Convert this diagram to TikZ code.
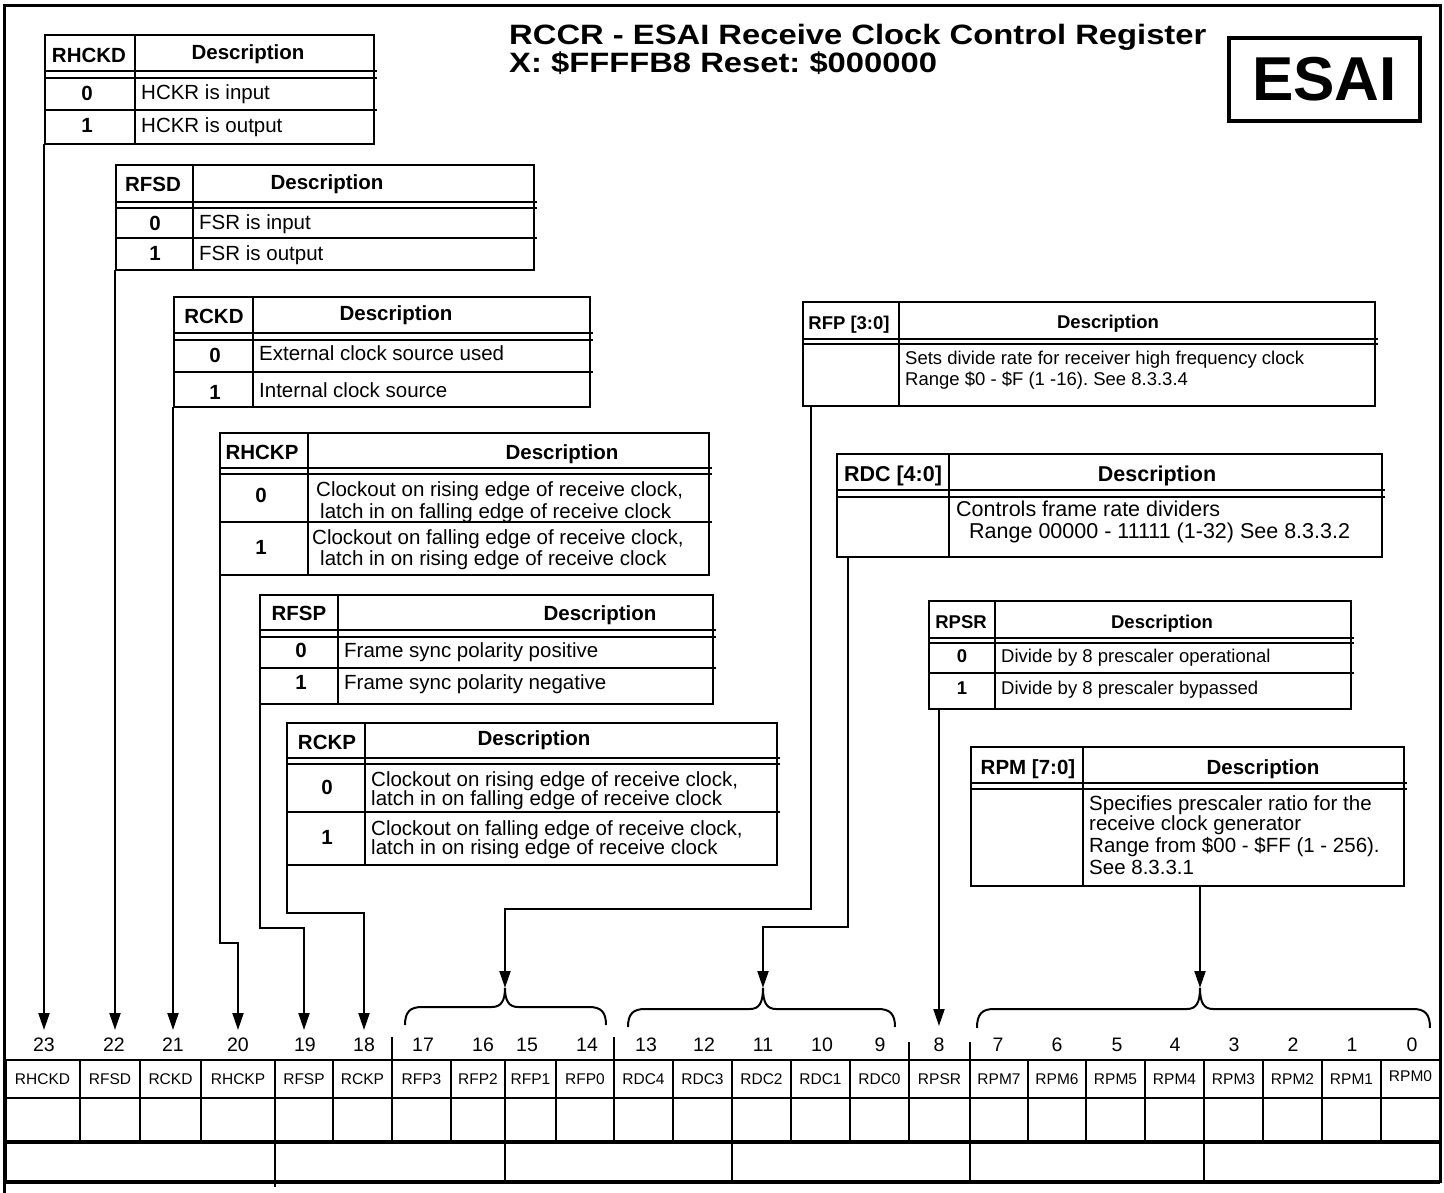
\documentclass[tikz,border=0pt]{standalone}
\usepackage{fontspec}
\usepackage{graphicx}
\setmainfont{Liberation Sans}
\usetikzlibrary{arrows.meta}
\newcommand{\fsz}[1]{\fontsize{#1}{#1}\selectfont}
\newcommand{\tbl}[7]{%
  \draw[tblline] (#1,#2) rectangle (#4,#7);
  \draw[tblline] (#3,#2) -- (#3,#7);
  \draw[tblline] (#1,#5) -- (#4+3,#5);
  \draw[tblline] (#1,#6) -- (#4+3,#6);
}
\newcommand{\rowline}[3]{\draw[tblline] (#1,#3) -- (#2+3,#3);}
\newcommand{\regbrace}[6]{%
  \draw[conn] (#1,#4) .. controls (#1,#5+5) and (#1+5,#5) .. (#1+17,#5)
    -- (#2-13,#5) .. controls (#2-4,#5) and (#2,#5-6) .. (#2,#6)
    .. controls (#2,#5-6) and (#2+4,#5) .. (#2+13,#5)
    -- (#3-17,#5) .. controls (#3-5,#5) and (#3,#5+5) .. (#3,#4);
}
\newcommand{\wide}[1]{\scalebox{1.17}[1]{#1}}
\begin{document}
\frenchspacing
\begin{tikzpicture}[x=1pt,y=-1pt,
  tblline/.style={line width=2.4pt},
  conn/.style={line width=2pt},
  arr/.style={conn,-{Triangle[length=17pt,width=11pt]}},
  regline/.style={line width=2.2pt},
  hdtxt/.style={inner sep=0pt,anchor=base,font=\fsz{20.5}\bfseries},
  bodytxt/.style={inner sep=0pt,anchor=base west,font=\fsz{20.5}},
  hdsm/.style={inner sep=0pt,anchor=base,font=\fsz{18.5}\bfseries},
  bodysm/.style={inner sep=0pt,anchor=base west,font=\fsz{18.5}},
  hdlg/.style={inner sep=0pt,anchor=base,font=\fsz{21.5}\bfseries},
  bodylg/.style={inner sep=0pt,anchor=base west,font=\fsz{21.5}},
  bitnum/.style={inner sep=0pt,anchor=base,font=\fsz{19.5}},
  fldname/.style={inner sep=0pt,anchor=base,font=\fsz{15.5}},
  ttl/.style={inner sep=0pt,anchor=base west,font=\fsz{28}\bfseries}]
\useasboundingbox (0,0) rectangle (1444,1193);
\fill[white] (0,0) rectangle (1444,1193);

% outer frame
\draw[line width=3pt] (4,1193) -- (4,6) -- (1440,6) -- (1440,1183);

% title and ESAI box
\node[ttl] (title1) at (509,45) {\wide{RCCR - ESAI Receive Clock Control Register}};
\node[ttl] (title2) at (509,73) {\wide{X: \$FFFFB8 Reset: \$000000}};
\node[draw,line width=4.5pt,minimum width=191pt,minimum height=83pt,inner sep=0pt,
      font=\fsz{62}\bfseries] (esai) at (1324.5,79.5) {ESAI};

% ---------- RHCKD
\tbl{45}{35}{135}{374}{71}{78}{144}
\rowline{45}{374}{110}
\node[hdtxt] (rhckdH) at (89,62.4) {RHCKD};
\node[hdtxt] (rhckdD) at (248,59.4) {Description};
\node[hdtxt] (rhckd0) at (87,100.4) {0};
\node[hdtxt] (rhckd1) at (87,132.4) {1};
\node[bodytxt] (rhckdT0) at (141,99.4) {HCKR is input};
\node[bodytxt] (rhckdT1) at (141,132.4) {HCKR is output};
\coordinate (cRHCKD) at (44,144);

% ---------- RFSD
\tbl{116}{165}{193}{534}{202}{208}{270}
\rowline{116}{534}{238}
\node[hdtxt] (rfsdH) at (153,191.4) {RFSD};
\node[hdtxt] (rfsdD) at (327,189.4) {Description};
\node[hdtxt] (rfsd0) at (155,230.4) {0};
\node[hdtxt] (rfsd1) at (155,260.4) {1};
\node[bodytxt] (rfsdT0) at (199,229.4) {FSR is input};
\node[bodytxt] (rfsdT1) at (199,260.4) {FSR is output};
\coordinate (cRFSD) at (115,270);

% ---------- RCKD
\tbl{174}{297}{253}{590}{333}{340}{407}
\rowline{174}{590}{372}
\node[hdtxt] (rckdH) at (214,323.4) {RCKD};
\node[hdtxt] (rckdD) at (396,320.4) {Description};
\node[hdtxt] (rckd0) at (215,362.4) {0};
\node[hdtxt] (rckd1) at (215,399.4) {1};
\node[bodytxt] (rckdT0) at (259,360.4) {External clock source used};
\node[bodytxt] (rckdT1) at (259,397.4) {Internal clock source};
\coordinate (cRCKD) at (173,407);

% ---------- RHCKP
\tbl{220}{433}{308}{709}{468}{474}{575}
\rowline{220}{709}{522}
\node[hdtxt] (rhckpH) at (262,459.4) {RHCKP};
\node[hdtxt] (rhckpD) at (562,459.4) {Description};
\node[hdtxt] (rhckp0) at (261,502.4) {0};
\node[hdtxt] (rhckp1) at (261,554.4) {1};
\node[bodytxt] (rhckpA) at (316,496.4) {Clockout on rising edge of receive clock,};
\node[bodytxt] (rhckpB) at (320,518.4) {latch in on falling edge of receive clock};
\node[bodytxt] (rhckpC) at (312,544.4) {Clockout on falling edge of receive clock,};
\node[bodytxt] (rhckpE) at (320,565.4) {latch in on rising edge of receive clock};
\coordinate (cRHCKP) at (220,575);

% ---------- RFSP
\tbl{260}{595}{338}{713}{630}{637}{704}
\rowline{260}{713}{668}
\node[hdtxt] (rfspH) at (299,620.4) {RFSP};
\node[hdtxt] (rfspD) at (600,620.4) {Description};
\node[hdtxt] (rfsp0) at (301,657.4) {0};
\node[hdtxt] (rfsp1) at (301,689.4) {1};
\node[bodytxt] (rfspT0) at (344,657.4) {Frame sync polarity positive};
\node[bodytxt] (rfspT1) at (344,689.4) {Frame sync polarity negative};
\coordinate (cRFSP) at (260,704);

% ---------- RCKP
\tbl{287}{723}{365}{777}{758}{764}{865}
\rowline{287}{777}{812}
\node[hdtxt] (rckpH) at (327,749.4) {RCKP};
\node[hdtxt] (rckpD) at (534,745.4) {Description};
\node[hdtxt] (rckp0) at (327,794.4) {0};
\node[hdtxt] (rckp1) at (327,844.4) {1};
\node[bodytxt] (rckpA) at (371,786.4) {Clockout on rising edge of receive clock,};
\node[bodytxt] (rckpB) at (371,805.4) {latch in on falling edge of receive clock};
\node[bodytxt] (rckpC) at (371,835.4) {Clockout on falling edge of receive clock,};
\node[bodytxt] (rckpE) at (371,854.4) {latch in on rising edge of receive clock};
\coordinate (cRCKP) at (287,865);

% ---------- RFP
\tbl{803}{302}{899}{1375}{339}{344}{406}
\node[hdsm] (rfpH) at (849,329.7) {RFP [3:0]};
\node[hdsm] (rfpD) at (1108,328.7) {Description};
\node[bodysm] (rfpA) at (905,364.7) {Sets divide rate for receiver high frequency clock};
\node[bodysm] (rfpB) at (905,385.7) {Range \$0 - \$F (1 -16). See 8.3.3.4};
\coordinate (cRFP) at (811,406);

% ---------- RDC
\tbl{837}{454}{949}{1382}{490}{497}{557}
\node[hdlg] (rdcH) at (893,481.7) {RDC [4:0]};
\node[hdlg] (rdcD) at (1157,481.7) {Description};
\node[bodylg] (rdcA) at (956,516.7) {Controls frame rate dividers};
\node[bodylg] (rdcB) at (969,538.7) {Range 00000 - 11111 (1-32) See 8.3.3.2};
\coordinate (cRDC) at (848,557);

% ---------- RPSR
\tbl{929}{601}{995}{1351}{638}{643}{709}
\rowline{929}{1351}{673}
\node[hdsm] (rpsrH) at (961,628.7) {RPSR};
\node[hdsm] (rpsrD) at (1162,628.7) {Description};
\node[hdsm] (rpsr0) at (962,662.7) {0};
\node[hdsm] (rpsr1) at (962,694.7) {1};
\node[bodysm] (rpsrT0) at (1001,662.7) {Divide by 8 prescaler operational};
\node[bodysm] (rpsrT1) at (1001,694.7) {Divide by 8 prescaler bypassed};
\coordinate (cRPSR) at (939,709);

% ---------- RPM
\tbl{971}{747}{1083}{1404}{783}{789}{886}
\node[hdtxt] (rpmH) at (1028,774.4) {RPM [7:0]};
\node[hdtxt] (rpmD) at (1263,774.4) {Description};
\node[bodytxt] (rpmA) at (1089,810.4) {Specifies prescaler ratio for the};
\node[bodytxt] (rpmB) at (1089,830.4) {receive clock generator};
\node[bodytxt] (rpmC) at (1089,852.4) {Range from \$00 - \$FF (1 - 256).};
\node[bodytxt] (rpmE) at (1089,874.4) {See 8.3.3.1};
\coordinate (cRPM) at (1200,886);

% ---------- register
\draw[regline] (5,1060) -- (1440,1060);
\draw[line width=2pt] (5,1098) -- (1440,1098);
\draw[line width=3.2pt] (5,1142) -- (1440,1142);
\draw[line width=3.8pt] (5,1182) -- (1440,1182);
\draw[line width=3pt] (5,1060) -- (5,1182);
\draw[line width=3pt] (1440,1060) -- (1440,1182);
\foreach \x in {80,140,201,275,333,451,505,556,673,732,791,850,1028,1086,1145,1204,1263,1322,1381}
  \draw[regline] (\x,1060) -- (\x,1142);
\foreach \x in {392,614} \draw[regline] (\x,1037) -- (\x,1142);
\foreach \x in {909,970} \draw[regline] (\x,1042) -- (\x,1142);
\draw[regline] (275,1142) -- (275,1187);
\foreach \x in {505,732,970,1204} \draw[regline] (\x,1142) -- (\x,1182);

\foreach \l/\r/\n [count=\i] in {5/80/RHCKD,80/140/RFSD,140/201/RCKD,201/275/RHCKP,275/333/RFSP,333/392/RCKP,392/451/RFP3,451/505/RFP2,505/556/RFP1,556/614/RFP0,614/673/RDC4,673/732/RDC3,732/791/RDC2,791/850/RDC1,850/909/RDC0,909/970/RPSR,970/1028/RPM7,1028/1086/RPM6,1086/1145/RPM5,1145/1204/RPM4,1204/1263/RPM3,1263/1322/RPM2,1322/1381/RPM1}
  \node[fldname] (f\i) at ({(\l+\r)/2},1084.6) {\n};
\node[fldname] (f24) at (1410.5,1081.6) {RPM0};

\foreach \x/\n in {44/23,114/22,173/21,238/20,305/19,364/18,423/17,483/16,527/15,587/14,646/13,704/12,763/11,822/10,880/9,939/8,998/7,1057/6,1117/5,1175/4,1234/3,1293/2,1352/1,1412/0}
  \node[bitnum] (b\n) at (\x,1051) {\n};

% ---------- braces
\regbrace{405}{505}{606}{1025}{1007}{988}
\regbrace{628}{763}{895}{1027}{1009}{988}
\regbrace{977}{1200}{1430}{1028}{1009}{988}

% ---------- connectors
\coordinate (t23) at (44,1030);
\coordinate (t22) at (115,1030);
\coordinate (t21) at (173,1030);
\coordinate (t20) at (238,1030);
\coordinate (t19) at (304,1030);
\coordinate (t18) at (364,1030);
\coordinate (tRFP) at (505,988);
\coordinate (tRDC) at (763,988);
\coordinate (t8) at (939,1026);
\coordinate (tRPM) at (1200,988);
\coordinate (e20) at (238,943);
\coordinate (e19) at (304,928);
\coordinate (e18) at (364,913);
\coordinate (eRFP) at (505,909);
\coordinate (eRDC) at (763,927);

\draw[arr] (cRHCKD) -- (t23);
\draw[arr] (cRFSD) -- (t22);
\draw[arr] (cRCKD) -- (t21);
\draw[arr] (cRHCKP) |- (e20) -- (t20);
\draw[arr] (cRFSP) |- (e19) -- (t19);
\draw[arr] (cRCKP) |- (e18) -- (t18);
\draw[arr] (cRFP) |- (eRFP) -- (tRFP);
\draw[arr] (cRDC) |- (eRDC) -- (tRDC);
\draw[arr] (cRPSR) -- (t8);
\draw[arr] (cRPM) -- (tRPM);
\end{tikzpicture}
\end{document}
